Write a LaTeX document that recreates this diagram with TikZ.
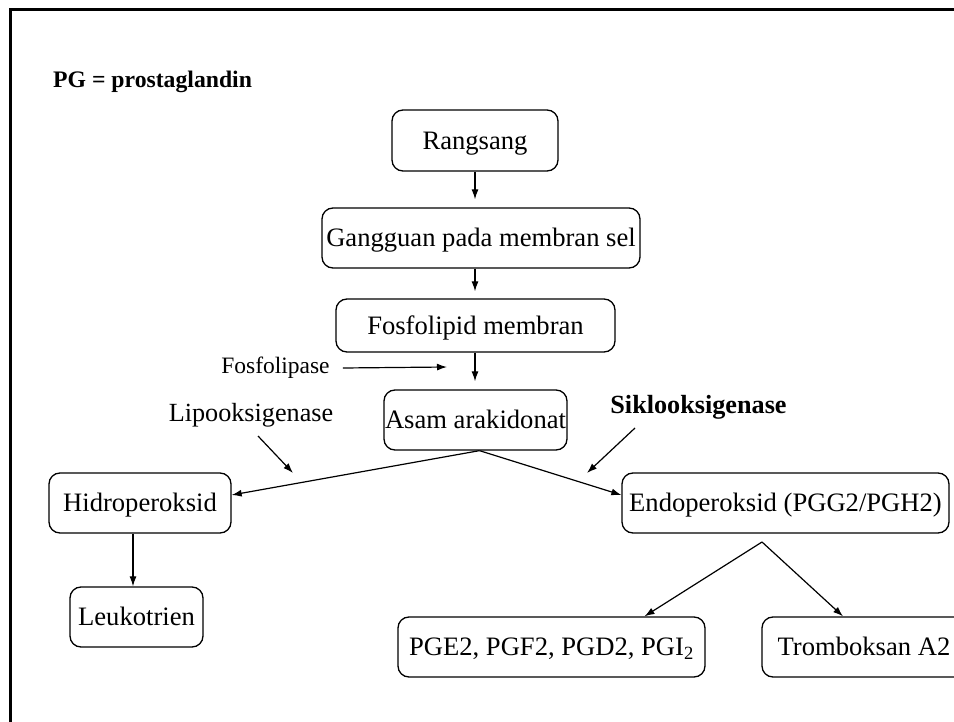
\documentclass[tikz,border=0pt]{standalone}
\usepackage{fontspec}
\setmainfont{Liberation Serif}
\usetikzlibrary{arrows.meta}
\begin{document}
\begin{tikzpicture}[x=1pt,y=-1pt,
  box/.style={draw,rounded corners=11pt,line width=1.3pt,inner sep=0pt,text height=24pt,text depth=6.4pt,font=\fontsize{26.6}{30}\selectfont},
  lbl/.style={inner sep=0pt,font=\fontsize{26.2}{30}\selectfont},
  arr/.style={-{Latex[length=10pt,width=7pt]},line width=1.2pt}]
\useasboundingbox (0,0) rectangle (954,722);
\draw[line width=2.5pt] (10.5,722) -- (10.5,9.5) -- (954,9.5);
\node[lbl,anchor=west,font=\bfseries\fontsize{23.7}{28}\selectfont] (pg) at (53,82) {PG = prostaglandin};
\node[box,minimum width=166pt,minimum height=61pt] (rang) at (475,140.5) {Rangsang};
\node[box,minimum width=318pt,minimum height=60pt] (gang) at (481,238) {Gangguan pada membran sel};
\node[box,minimum width=279pt,minimum height=53pt] (fosf) at (475.5,325.5) {Fosfolipid membran};
\node[box,minimum width=183pt,minimum height=60pt] (asam) at (475.5,420) {Asam arakidonat};
\node[box,minimum width=182pt,minimum height=60pt] (hidro) at (140,503) {Hidroperoksid};
\node[box,minimum width=133pt,minimum height=60pt] (leuk) at (136.5,617) {Leukotrien};
\node[box,minimum width=327pt,minimum height=60pt] (endo) at (785.5,503) {Endoperoksid (PGG2/PGH2)};
\node[box,minimum width=307pt,minimum height=60pt] (pge) at (551.5,647) {PGE2, PGF2, PGD2, PGI\textsubscript{2}};
\node[box,minimum width=204pt,minimum height=60pt] (trom) at (864,647) {Tromboksan A2};
\node[lbl,font=\fontsize{23.5}{28}\selectfont] (fosfase) at (275.5,368) {Fosfolipase};
\node[lbl] (lipo) at (251,415) {Lipooksigenase};
\node[lbl,font=\bfseries\fontsize{26.2}{30}\selectfont] (siklo) at (698.5,407) {Siklooksigenase};
\coordinate (fosfaseend) at (447,367);
\coordinate (lipoa) at (258,436);
\coordinate (lipob) at (293,473);
\coordinate (sikloa) at (635,428);
\coordinate (siklob) at (587,473);
\coordinate (fork) at (762,542);
\draw[arr,shorten >=8pt] (rang.south) -- (rang.south |- gang.north);
\draw[arr,shorten >=7pt] (gang.south -| rang.south) -- (rang.south |- fosf.north);
\draw[arr,shorten >=8pt] (fosf.south -| rang.south) -- (rang.south |- asam.north);
\draw[arr] ([xshift=13pt]fosfase.east) -- (fosfaseend);
\draw[arr] (lipoa) -- (lipob);
\draw[arr] (sikloa) -- (siklob);
\draw[arr] ([xshift=4pt]asam.south) -- ([yshift=8pt]hidro.east);
\draw[arr] ([xshift=4pt]asam.south) -- ([yshift=8pt]endo.west);
\draw[arr] ([xshift=-7pt]hidro.south) -- ([xshift=-7pt]hidro.south |- leuk.north);
\draw[arr] (fork) -- ([xshift=93pt]pge.north);
\draw[arr] (fork) -- ([xshift=-21pt]trom.north);
\end{tikzpicture}
\end{document}
